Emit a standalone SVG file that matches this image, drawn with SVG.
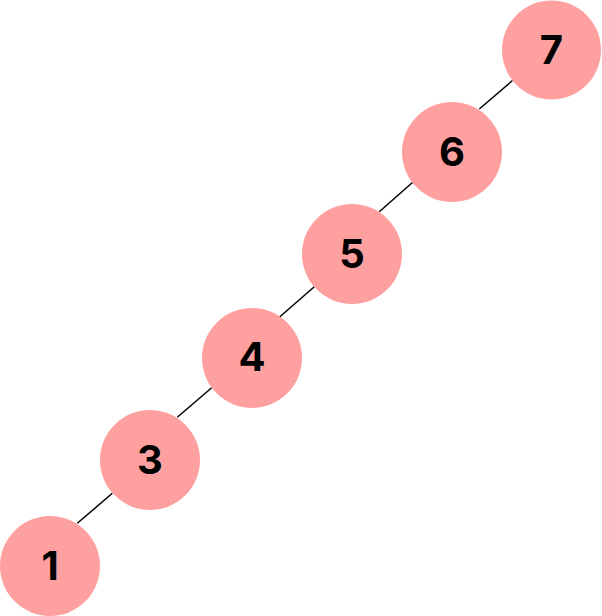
<svg xmlns="http://www.w3.org/2000/svg" width="602" height="616" viewBox="0 0 602 616">
<style>
.n circle{fill:#ffa0a0}
.n text{font-family:Inter,"Liberation Sans",sans-serif;font-weight:700;font-size:40px;fill:#000;text-anchor:middle}
.e line{stroke:#000;stroke-width:1.5}
</style>
<rect width="602" height="616" fill="#fff"/>
<g id="edges" class="e">
<line x1="512.5" y1="80.5" x2="479.3" y2="109"/>
<line x1="413.3" y1="181.7" x2="379.3" y2="211.7"/>
<line x1="314.3" y1="286.7" x2="279.3" y2="317.3"/>
<line x1="211.7" y1="387.7" x2="177.3" y2="417.3"/>
<line x1="112.3" y1="493.3" x2="77.3" y2="523.3"/>
</g>
<g id="n7" class="n"><circle cx="551.5" cy="50" r="49.5"/><text x="551.5" y="63.5">7</text></g>
<g id="n6" class="n"><circle cx="452" cy="152" r="50"/><text x="452" y="165.5">6</text></g>
<g id="n5" class="n"><circle cx="352" cy="254" r="50"/><text x="352" y="267.5">5</text></g>
<g id="n4" class="n"><circle cx="252" cy="358" r="50"/><text x="252" y="370.5">4</text></g>
<g id="n3" class="n"><circle cx="150" cy="460" r="50"/><text x="150" y="473.5">3</text></g>
<g id="n1" class="n"><circle cx="50" cy="566" r="50"/><text x="50" y="579.5">1</text></g>
</svg>
